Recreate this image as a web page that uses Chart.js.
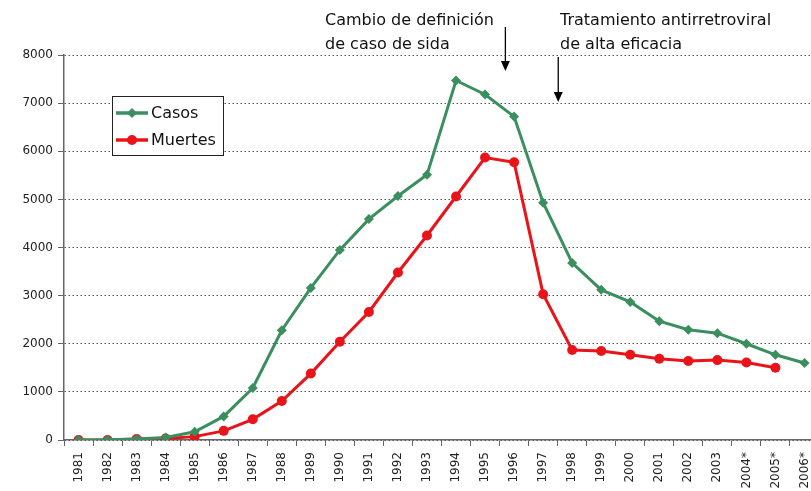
<!DOCTYPE html>
<html>
<head>
<meta charset="utf-8">
<script src="https://cdn.jsdelivr.net/npm/chart.js@4"></script>
<style>
html,body{margin:0;padding:0;background:#fff;overflow:hidden}
#wrap{position:relative;width:825px;height:491px}
</style>
</head>
<body>
<div id="wrap"><canvas id="c"></canvas></div>
<script>
// ── Data ──
const years=['1981','1982','1983','1984','1985','1986','1987','1988','1989','1990','1991','1992','1993','1994','1995','1996','1997','1998','1999','2000','2001','2002','2003','2004*','2005*','2006*'];
const casos=[0,5,20,50,170,490,1080,2280,3160,3950,4590,5070,5510,7470,7180,6720,4930,3680,3120,2870,2470,2290,2220,2000,1770,1600];
const muertes=[0,0,20,30,70,190,430,810,1380,2040,2660,3480,4250,5060,5870,5770,3030,1870,1850,1770,1690,1640,1660,1610,1500,null];
const yTicks=[0,1000,2000,3000,4000,5000,6000,7000,8000];

const GREEN='#3b8f5f', RED='#e8141a';
const FONT='"DejaVu Sans", Verdana, sans-serif';

// ── Annotations + legend box ──
const notes={
  id:'notes',
  afterDraw(ch){
    const c=ch.ctx, x=ch.scales.x;
    const step=x.getPixelForValue(1)-x.getPixelForValue(0);
    c.save();
    c.fillStyle='#111';c.font='16px '+FONT;c.textBaseline='alphabetic';
    c.fillText('Cambio de definición',325,25);
    c.fillText('de caso de sida',325,49);
    c.fillText('Tratamiento antirretroviral',560,25);
    c.fillText('de alta eficacia',560,49);
    const arrow=(ax,y0,y1)=>{
      c.strokeStyle='#000';c.lineWidth=1.3;
      c.beginPath();c.moveTo(ax,y0);c.lineTo(ax,y1-8);c.stroke();
      c.fillStyle='#000';c.beginPath();c.moveTo(ax-4.5,y1-10);c.lineTo(ax+4.5,y1-10);c.lineTo(ax,y1);c.closePath();c.fill();
    };
    arrow(x.getPixelForValue(14)+0.7*step,27,71);
    arrow(x.getPixelForValue(16)+0.52*step,57,102);

    // legend
    c.fillStyle='#fff';c.fillRect(112,96,112,60);
    c.strokeStyle='#222';c.lineWidth=1;c.strokeRect(112.5,96.5,111,59);
    const item=(y,col,lbl,diamond)=>{
      c.strokeStyle=col;c.lineWidth=3.5;
      c.beginPath();c.moveTo(116,y);c.lineTo(148,y);c.stroke();
      c.fillStyle=col;c.beginPath();
      if(diamond){c.moveTo(132,y-5);c.lineTo(137,y);c.lineTo(132,y+5);c.lineTo(127,y);c.closePath()}
      else c.arc(132,y,5,0,Math.PI*2);
      c.fill();
      c.fillStyle='#111';c.font='16px '+FONT;c.textBaseline='middle';
      c.fillText(lbl,151,y+1);
    };
    item(113,GREEN,'Casos',true);
    item(140,RED,'Muertes',false);
    c.restore();
  }
};

new Chart(document.getElementById('c'),{
  type:'line',
  data:{labels:years,datasets:[
    {label:'Casos',data:casos,borderColor:GREEN,backgroundColor:GREEN,borderWidth:3,pointStyle:'rectRot',pointRadius:5,pointBorderWidth:0,tension:0},
    {label:'Muertes',data:muertes,borderColor:RED,backgroundColor:RED,borderWidth:3,pointStyle:'circle',pointRadius:5,pointBorderWidth:0,tension:0}
  ]},
  options:{
    responsive:true,maintainAspectRatio:false,animation:false,
    layout:{padding:{top:55,right:6,left:0,bottom:0}},
    plugins:{legend:{display:false},tooltip:{enabled:false}},
    scales:{
      x:{
        offset:true,
        afterFit:s=>{s.height=51},
        grid:{offset:true,drawOnChartArea:false,drawTicks:true,tickLength:6,color:'#666'},
        border:{color:'#666',width:1.5},
        ticks:{autoSkip:false,minRotation:90,maxRotation:90,color:'#222',font:{family:FONT,size:12},padding:6}
      },
      y:{
        min:0,max:8000,
        afterFit:s=>{s.width=64},
        afterBuildTicks:s=>{s.ticks=yTicks.map(v=>({value:v}))},
        grid:{color:'#555',tickBorderDash:[],tickLength:6,tickColor:'#666'},
        border:{color:'#666',width:1.5,dash:[1.5,2.5]},
        ticks:{color:'#222',font:{family:FONT,size:12},padding:5,callback:v=>String(v)}
      }
    }
  },
  plugins:[notes]
});
</script>
</body>
</html>
